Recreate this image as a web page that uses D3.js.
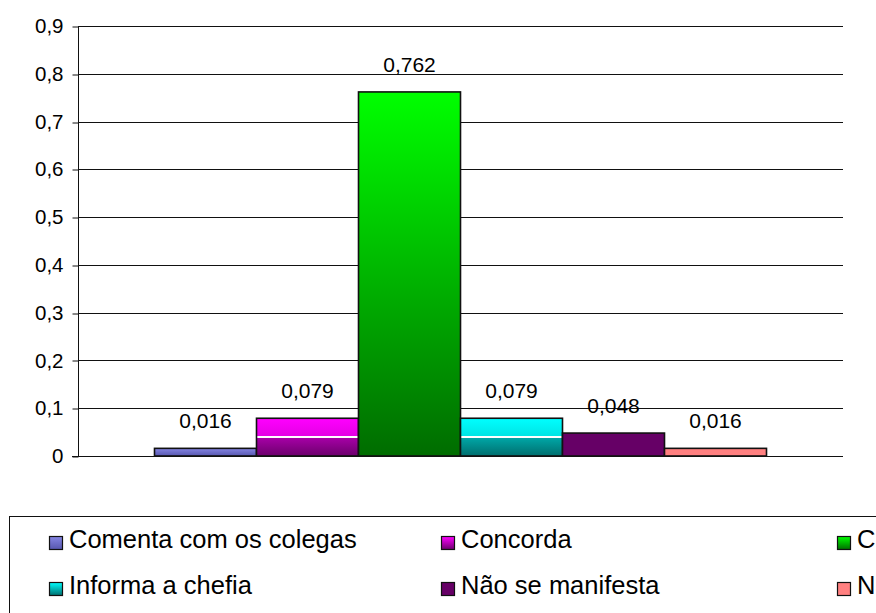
<!DOCTYPE html>
<html>
<head>
<meta charset="utf-8">
<script src="https://cdn.jsdelivr.net/npm/d3@7"></script>
<style>
  html, body { margin: 0; padding: 0; background: #fff; }
  svg { display: block; font-family: Arial, "Liberation Sans", sans-serif; }
</style>
</head>
<body>
<svg id="chart" width="876" height="613"></svg>
<script>
// Series (one bar each) and their shares
const seriesNames = [
  "Comenta com os colegas",
  "Concorda",
  "Cumpre a determinação",
  "Informa a chefia",
  "Não se manifesta",
  "Não respondeu"
];
const seriesValues = [0.016, 0.079, 0.762, 0.079, 0.048, 0.016];
const valueLabels = ["0,016", "0,079", "0,762", "0,079", "0,048", "0,016"];
const yTicks = [0, 0.1, 0.2, 0.3, 0.4, 0.5, 0.6, 0.7, 0.8, 0.9];
const yTickLabels = ["0", "0,1", "0,2", "0,3", "0,4", "0,5", "0,6", "0,7", "0,8", "0,9"];

// Fill gradients per series: [offset, colour]
const seriesFills = [
  [[0, "#8686e4"], [1, "#5656ae"]],
  [[0, "#ff00ff"], [0.48, "#e400e4"], [0.48, "#ffffff"], [0.52, "#ffffff"], [0.52, "#a600a6"], [1, "#6c006c"]],
  [[0, "#00ff00"], [1, "#006c00"]],
  [[0, "#00ffff"], [0.48, "#00e4e4"], [0.48, "#ffffff"], [0.52, "#ffffff"], [0.52, "#00a6a6"], [1, "#006e6e"]],
  [[0, "#660066"], [1, "#660066"]],
  [[0, "#ff8080"], [1, "#ff8080"]]
];

const svg = d3.select("#chart");
const W = 876, H = 613;
const plot = { left: 78, right: 843, top: 26, bottom: 456 };

const defs = svg.append("defs");
seriesFills.forEach((stops, i) => {
  const g = defs.append("linearGradient")
    .attr("id", "fill" + i)
    .attr("x1", 0).attr("y1", 0).attr("x2", 0).attr("y2", 1);
  stops.forEach(([o, c]) => g.append("stop").attr("offset", o).attr("stop-color", c));
});
const legendFill = (i) => {
  // legend swatches use a plain top-to-bottom gradient of the same colours
  const stops = seriesFills[i];
  const id = "lfill" + i;
  const g = defs.append("linearGradient").attr("id", id)
    .attr("x1", 0).attr("y1", 0).attr("x2", 0).attr("y2", 1);
  g.append("stop").attr("offset", 0).attr("stop-color", stops[0][1]);
  g.append("stop").attr("offset", 1).attr("stop-color", stops[stops.length - 1][1]);
  return "url(#" + id + ")";
};
defs.append("clipPath").attr("id", "pageClip")
  .append("rect").attr("x", 0).attr("y", 0).attr("width", W).attr("height", H);

const y = d3.scaleLinear().domain([0, 0.9]).range([plot.bottom, plot.top]);
const x0 = d3.scaleBand().domain(["grupo"]).range([plot.left, plot.right])
  .paddingInner(0.2).paddingOuter(0.1);
const x1 = d3.scaleBand().domain(seriesNames).range([0, x0.bandwidth()]);

// Horizontal gridlines
svg.append("g").selectAll("line").data(yTicks.filter(t => t > 0)).join("line")
  .attr("x1", plot.left).attr("x2", plot.right)
  .attr("y1", d => Math.round(y(d)) + 0.5).attr("y2", d => Math.round(y(d)) + 0.5)
  .attr("stroke", "#111").attr("stroke-width", 1);

// Y axis
const yAxis = d3.axisLeft(y).tickValues(yTicks)
  .tickFormat((d, i) => yTickLabels[i]).tickSize(6).tickPadding(9);
const ya = svg.append("g").attr("transform", `translate(${plot.left + 0.5},0)`).call(yAxis);
ya.select(".domain").attr("stroke", "#111").attr("d", `M0,${y(0.9)}V${y(0)}`);
ya.selectAll(".tick line").attr("stroke", "#111")
  .attr("transform", d => `translate(0,${Math.round(y(d)) + 0.5 - y(d)})`);
ya.selectAll(".tick text").attr("font-size", 20.5).attr("fill", "#000")
  .attr("font-family", "Arial, 'Liberation Sans', sans-serif");

// Bars
const barG = svg.append("g").attr("transform", `translate(${x0("grupo")},0)`);
barG.selectAll("rect").data(seriesValues).join("rect")
  .attr("x", (d, i) => x1(seriesNames[i]))
  .attr("y", d => y(d))
  .attr("width", x1.bandwidth())
  .attr("height", d => y(0) - y(d))
  .attr("fill", (d, i) => "url(#fill" + i + ")")
  .attr("stroke", "#111").attr("stroke-width", 1.6);

// X axis baseline
svg.append("line")
  .attr("x1", plot.left - 6).attr("x2", plot.right)
  .attr("y1", Math.round(y(0)) + 0.5).attr("y2", Math.round(y(0)) + 0.5)
  .attr("stroke", "#111");

// Value labels
barG.selectAll("text").data(seriesValues).join("text")
  .attr("x", (d, i) => x1(seriesNames[i]) + x1.bandwidth() / 2)
  .attr("y", d => y(d) - 20)
  .attr("text-anchor", "middle")
  .attr("font-size", 21).attr("fill", "#000")
  .text((d, i) => valueLabels[i]);

// Legend (its frame and last column run past the right edge of the page)
const legend = svg.append("g").attr("clip-path", "url(#pageClip)");
legend.append("rect")
  .attr("x", 9.5).attr("y", 516.5).attr("width", 1000).attr("height", 200)
  .attr("fill", "#fff").attr("stroke", "#111").attr("stroke-width", 1);
const colX = [49, 441, 837];
const rowY = [536, 582];
seriesNames.forEach((name, i) => {
  const cx = colX[i % 3], ry = rowY[Math.floor(i / 3)];
  const item = legend.append("g").attr("transform", `translate(${cx},${ry})`);
  item.append("rect").attr("x", 0.5).attr("y", 0.5).attr("width", 13).attr("height", 13)
    .attr("fill", legendFill(i)).attr("stroke", "#111").attr("stroke-width", 1.2);
  item.append("text").attr("x", 20).attr("y", 12).attr("font-size", 25.5)
    .attr("fill", "#000").text(name);
});
</script>
</body>
</html>
